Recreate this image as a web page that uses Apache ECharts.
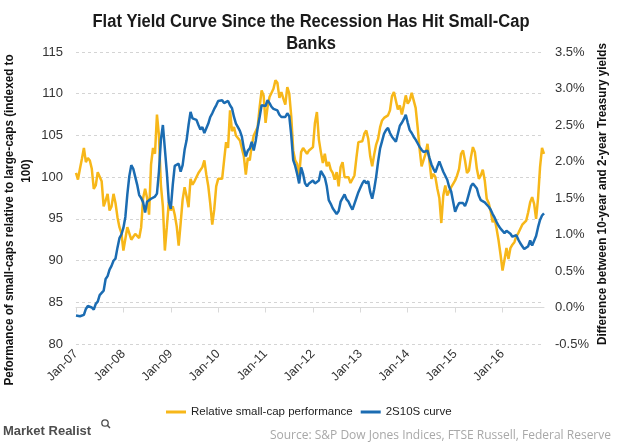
<!DOCTYPE html>
<html><head><meta charset="utf-8">
<script src="https://cdn.jsdelivr.net/npm/echarts@6/dist/echarts.min.js"></script>
<style>html,body{margin:0;padding:0;background:#fff}#c{width:620px;height:443px}</style>
</head><body><div id="c"></div>
<script>
// Tick labels shown on the x axis (one per January)
const xTickLabels = ['Jan-07','Jan-08','Jan-09','Jan-10','Jan-11','Jan-12','Jan-13','Jan-14','Jan-15','Jan-16'];

// Relative small-cap performance (indexed to 100), semi-monthly, Jan-2007 .. Nov-2016
const relPerf = [
100.5, 99.7,101.0,102.2,103.5,101.8,102.3,102.0,101.0, 98.6,
 99.0,100.6,100.8, 99.5, 96.5, 97.2, 98.0, 96.0, 96.5, 98.0,
 96.9, 95.2, 94.0, 93.3, 91.2, 92.6, 94.0, 94.0, 92.5, 92.5,
 93.2, 93.4, 92.7, 94.0, 97.5, 98.6, 97.5, 95.5,101.5,103.5,
102.8,107.5,105.0, 99.0, 96.5, 91.2, 94.0, 97.0, 96.0, 96.5,
 95.5, 94.1, 91.8, 94.5, 97.3, 98.8, 97.7, 96.4, 99.8, 99.1,
 99.5, 99.3,100.5,100.7,101.2,102.0,100.3, 98.9, 96.8, 94.3,
 96.1, 98.9, 99.8, 99.6, 99.8,102.0,104.2,103.5,108.0,105.5,
106.0,105.0,105.0,104.4,104.4,102.5,100.3,102.3,102.0,103.8,
105.0,105.5,106.0,108.4,110.4,109.8,106.5,108.4,109.6,109.8,
110.6,111.6,111.3,109.5,110.2,109.4,108.7,110.8,110.0,107.3,
103.2,102.0,101.6,100.1,103.0,103.5,103.7,102.8,103.2,103.1,
103.6,106.5,107.8,104.5,103.0,101.7,102.8,101.3,101.8,100.9,
100.5, 99.7,100.6, 98.9,101.2,101.8,100.0, 99.8,100.0, 99.3,
 99.2,100.2,102.3,104.2,104.0,104.3,105.2,105.6,104.6,102.5,
101.3,102.7,103.9,104.6,106.0,106.8,107.1,107.2,107.4,108.0,
109.7,110.2,110.0,108.1,108.6,107.5,108.6,109.8,108.8,109.2,
110.1,110.0,108.3,106.0,103.4,101.3,101.2,102.8,104.0,104.2,
 99.8,100.4,100.0, 98.6, 97.5, 94.5, 97.8, 99.0, 97.8, 97.6,
 98.8, 99.2, 99.6,100.2,101.0,102.8,103.2,102.0,100.5,100.8,
102.4,103.6,103.0,101.0, 99.8,100.2,100.9, 99.6, 97.4, 96.9,
 95.9, 94.6, 95.0, 93.8, 92.4, 90.7, 88.8, 90.1, 91.5, 90.2,
 91.5, 91.9, 92.2, 92.9, 93.3, 93.4, 94.3, 94.3, 94.8, 95.8,
 97.0, 97.6, 96.8, 95.0, 97.5,101.2,103.5,102.8
];

// 2S10S curve: 10-year minus 2-year Treasury yield (%), same dates
const curve = [
-0.11,-0.11,-0.12,-0.12,-0.10,-0.02, 0.02, 0.03, 0.00,-0.03,
 0.05, 0.08, 0.17, 0.19, 0.23, 0.39, 0.43, 0.52, 0.57, 0.64,
 0.67, 0.82, 0.95, 1.00, 1.09, 1.24, 1.55, 1.80, 1.95, 1.90,
 1.79, 1.68, 1.54, 1.50, 1.44, 1.30, 1.45, 1.47, 1.49, 1.50,
 1.52, 1.56, 1.86, 2.30, 2.50, 2.50, 1.85, 1.45, 1.35, 1.68,
 1.94, 1.95, 1.97, 1.86, 1.95, 2.16, 2.29, 2.50, 2.68, 2.59,
 2.58, 2.57, 2.50, 2.44, 2.47, 2.39, 2.38, 2.52, 2.61, 2.66,
 2.72, 2.77, 2.83, 2.83, 2.84, 2.80, 2.82, 2.83, 2.77, 2.73,
 2.61, 2.52, 2.47, 2.42, 2.34, 2.18, 2.07, 2.15, 2.18, 2.27,
 2.15, 2.28, 2.46, 2.61, 2.77, 2.78, 2.76, 2.84, 2.80, 2.75,
 2.72, 2.71, 2.70, 2.64, 2.61, 2.59, 2.61, 2.66, 2.62, 2.36,
 2.02, 1.94, 1.83, 1.70, 1.92, 1.83, 1.70, 1.66, 1.70, 1.70,
 1.74, 1.70, 1.68, 1.74, 1.87, 1.86, 1.78, 1.66, 1.47, 1.42,
 1.36, 1.34, 1.28, 1.32, 1.45, 1.44, 1.55, 1.48, 1.45, 1.39,
 1.34, 1.42, 1.50, 1.58, 1.64, 1.70, 1.74, 1.70, 1.73, 1.58,
 1.49, 1.62, 1.79, 2.00, 2.18, 2.28, 2.38, 2.43, 2.46, 2.39,
 2.34, 2.32, 2.27, 2.38, 2.49, 2.53, 2.58, 2.64, 2.53, 2.43,
 2.39, 2.34, 2.30, 2.25, 2.20, 2.16, 2.13, 2.12, 2.15, 2.05,
 1.96, 1.90, 1.85, 1.93, 2.00, 1.93, 1.86, 1.84, 1.75, 1.65,
 1.59, 1.45, 1.31, 1.38, 1.43, 1.41, 1.43, 1.39, 1.46, 1.56,
 1.66, 1.70, 1.71, 1.63, 1.53, 1.47, 1.45, 1.44, 1.42, 1.38,
 1.34, 1.28, 1.23, 1.17, 1.12, 1.08, 1.05, 1.02, 1.05, 1.05,
 1.01, 0.97, 0.98, 0.99, 0.93, 0.88, 0.84, 0.80, 0.81, 0.84,
 0.92, 0.85, 0.86, 0.98, 1.10, 1.20, 1.26, 1.29
];

// Category dates: 1st and 16th of each month from Jan 2007
const categories = [];
for (let k = 0; k < relPerf.length; k++) {
  const m = Math.floor(k / 2);
  const y = 2007 + Math.floor(m / 12);
  const mo = String(m % 12 + 1).padStart(2, '0');
  categories.push(y + '-' + mo + (k % 2 ? '-16' : '-01'));
}

const titleLine1 = 'Flat Yield Curve Since the Recession Has Hit Small-Cap';
const titleLine2 = 'Banks';
const leftName1 = 'Peformance of small-caps relative to large-caps (indexed to';
const leftName2 = '100)';
const rightName = 'Difference between 10-year and 2-year Treasury yields';

const FONT = "'Liberation Sans', Arial, sans-serif";
const YELLOW = '#F7B719';
const BLUE = '#1B6CB2';
const isJan = (i) => i % 24 === 0;

// horizontal condensing factor so the bold text matches the narrow face of the original
const mctx = document.createElement('canvas').getContext('2d');
function squeeze(text, font, target) { mctx.font = font; return target / mctx.measureText(text).width; }
const TITLE_FONT = "bold 17.5px " + FONT;
const NAME_FONT = "bold 12px " + FONT;
const sTitle = squeeze(titleLine1, TITLE_FONT, 437);
const sName = squeeze(rightName, NAME_FONT, 302);

function txt(x, y, text, font, fill, align, extra) {
  return Object.assign({ type: 'text', x: x, y: y,
    style: { text: text, font: font, fill: fill, align: align, verticalAlign: 'middle',
      textAlign: align, textVerticalAlign: 'middle' } }, extra || {});
}

const chart = echarts.init(document.getElementById('c'), null, { renderer: 'canvas' });
chart.setOption({
  animation: false,
  backgroundColor: '#ffffff',
  legend: {
    left: 166, top: 406, padding: 0,
    icon: 'rect', itemWidth: 20, itemHeight: 3, itemGap: 8,
    textStyle: { fontFamily: FONT, fontSize: 11.5, color: '#222' },
    data: ['Relative small-cap performance', '2S10S curve']
  },
  grid: { left: 76, right: 76, top: 52, bottom: 99, containLabel: false },
  xAxis: {
    type: 'category', data: categories, boundaryGap: false,
    axisLine: { lineStyle: { color: '#d9d9d9', width: 1 } },
    axisTick: { show: true, interval: isJan, length: 5, lineStyle: { color: '#d9d9d9' } },
    axisLabel: {
      interval: isJan, rotate: 45, margin: 8,
      fontFamily: FONT, fontSize: 12.5, color: '#333',
      formatter: (v, i) => xTickLabels[i / 24]
    },
    splitLine: { show: false }
  },
  yAxis: [
    {
      type: 'value', min: 80, max: 115, interval: 5, position: 'left',
      axisLine: { show: false }, axisTick: { show: false },
      axisLabel: { fontFamily: FONT, fontSize: 13, color: '#333', margin: 13 },
      splitLine: { lineStyle: { color: '#d4d4d4', type: [3, 3], width: 1 } }
    },
    {
      type: 'value', min: -0.5, max: 3.5, interval: 0.5, position: 'right',
      axisLine: { show: false }, axisTick: { show: false }, splitLine: { show: false },
      axisLabel: { fontFamily: FONT, fontSize: 13, color: '#333', margin: 11,
        formatter: (v) => v.toFixed(1) + '%' }
    }
  ],
  series: [
    {
      name: 'Relative small-cap performance', type: 'line', yAxisIndex: 0,
      data: relPerf, showSymbol: false, symbol: 'none',
      lineStyle: { color: YELLOW, width: 2.5 }, itemStyle: { color: YELLOW }
    },
    {
      name: '2S10S curve', type: 'line', yAxisIndex: 1,
      data: curve, showSymbol: false, symbol: 'none',
      lineStyle: { color: BLUE, width: 2.5 }, itemStyle: { color: BLUE }
    }
  ],
  graphic: [
    txt(311, 22, titleLine1, TITLE_FONT, '#1a1a1a', 'center', { scaleX: sTitle }),
    txt(311, 44, titleLine2, TITLE_FONT, '#1a1a1a', 'center', { scaleX: sTitle }),
    txt(10, 220, leftName1, NAME_FONT, '#111', 'center', { rotation: Math.PI / 2, scaleX: sName }),
    txt(27, 171, leftName2, NAME_FONT, '#111', 'center', { rotation: Math.PI / 2, scaleX: sName }),
    txt(603, 194, rightName, NAME_FONT, '#111', 'center', { rotation: Math.PI / 2, scaleX: sName }),
    txt(611, 436, 'Source: S&P Dow Jones Indices, FTSE Russell, Federal Reserve', "12px 'Open Sans', sans-serif", '#a8a8a8', 'right'),
    txt(3, 431, 'Market Realist', "bold 13px " + FONT, '#4d4d4d', 'left'),
    { type: 'circle', shape: { cx: 105, cy: 423, r: 3.2 }, style: { fill: 'none', stroke: '#4d4d4d', lineWidth: 1.3 } },
    { type: 'line', shape: { x1: 107.3, y1: 425.3, x2: 110, y2: 428 }, style: { stroke: '#4d4d4d', lineWidth: 1.5 } }
  ]
});
</script>
</body></html>
